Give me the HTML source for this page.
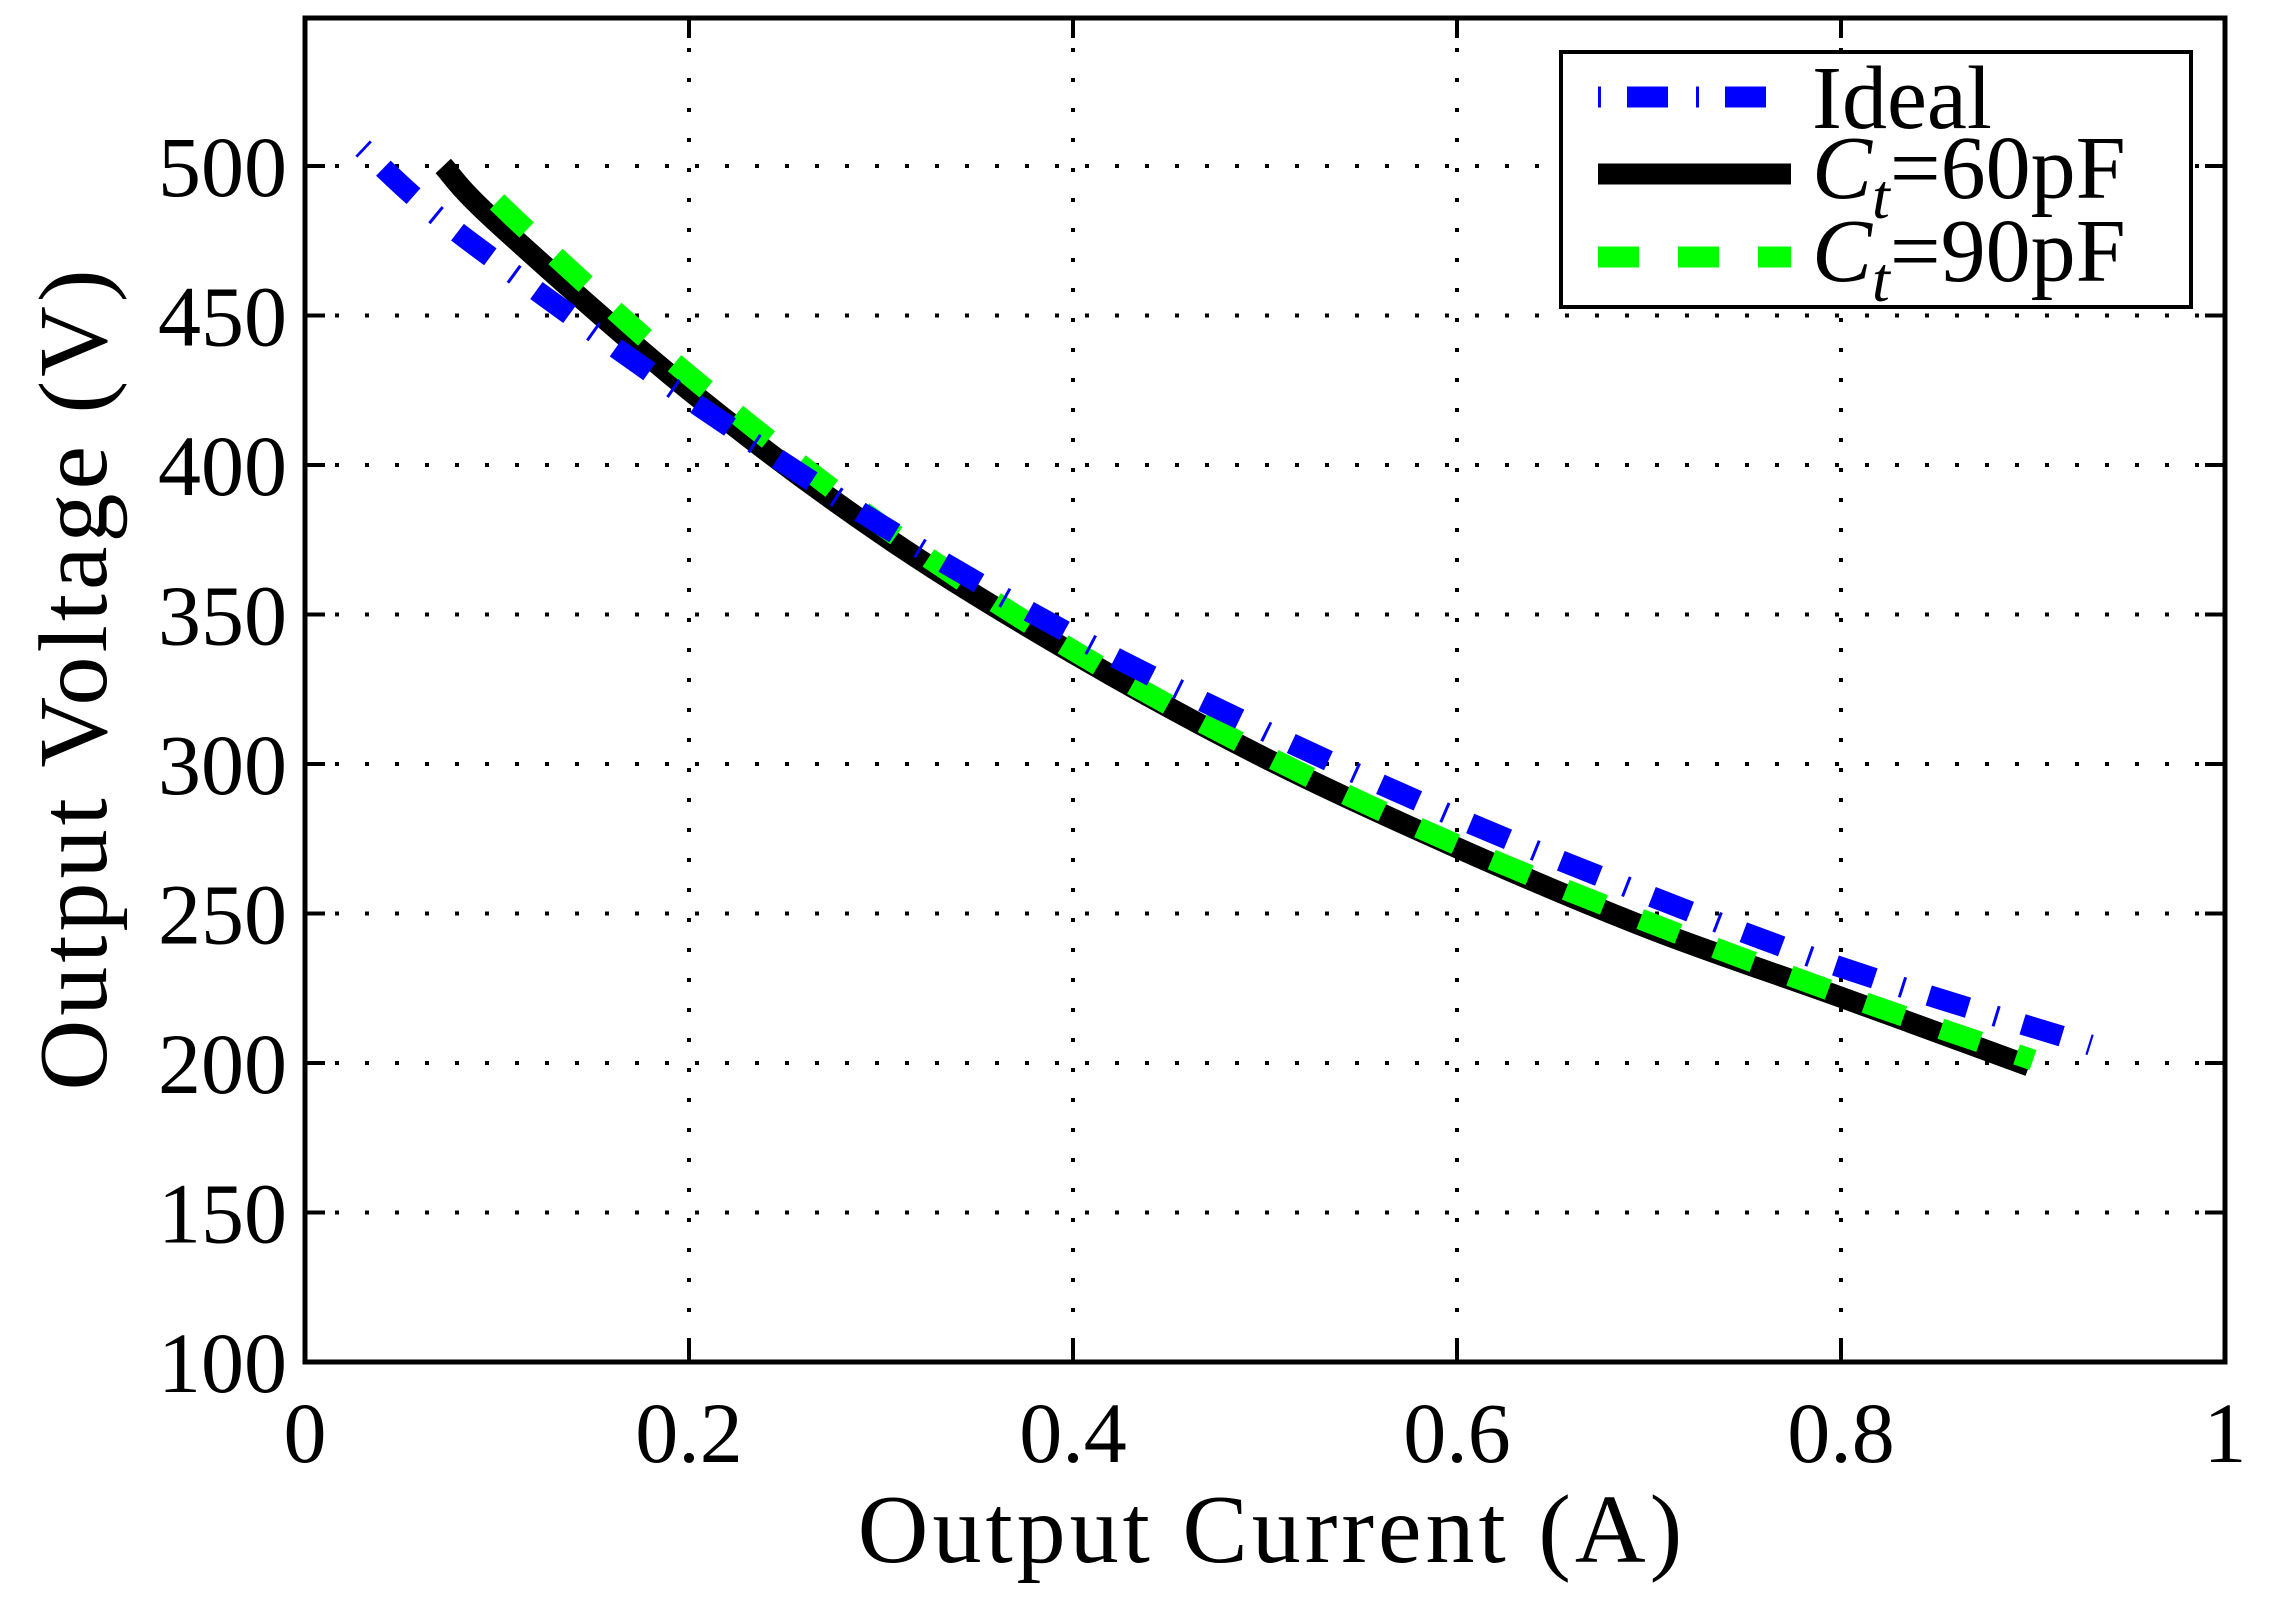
<!DOCTYPE html>
<html><head><meta charset="utf-8">
<style>
html,body{margin:0;padding:0;background:#fff;}
svg text{font-family:"Liberation Serif",serif;fill:#000;}
</style></head>
<body>
<svg id="chart" width="2274" height="1605" viewBox="0 0 2274 1605" xmlns="http://www.w3.org/2000/svg">
<defs><clipPath id="plotclip"><rect x="305" y="18" width="1920" height="1344"/></clipPath></defs>
<rect width="2274" height="1605" fill="#fff"/>
<g id="grid"></g>
<g id="series" clip-path="url(#plotclip)"></g>
<rect x="305" y="18" width="1920" height="1344" fill="none" stroke="#000" stroke-width="5"/>
<g id="ticks"></g>
<text x="1272" y="1562" font-size="98" text-anchor="middle" letter-spacing="4">Output Current (A)</text>
<text x="106" y="678" font-size="98" text-anchor="middle" letter-spacing="4" transform="rotate(-90 106 678)">Output Voltage (V)</text>
<g>
<rect x="1561" y="52" width="630" height="255" fill="#fff" stroke="#000" stroke-width="4"/>
<line x1="1598" y1="97" x2="1791" y2="97" stroke="#0000ff" stroke-width="21" stroke-dasharray="3 26 41 28"/>
<text x="1812" y="128" font-size="90">Ideal</text>
<line x1="1598" y1="174" x2="1791" y2="174" stroke="#000" stroke-width="21"/>
<text x="1812" y="198" font-size="90"><tspan font-style="italic">C</tspan><tspan font-style="italic" font-size="64" dy="20">t</tspan><tspan dy="-20">=60pF</tspan></text>
<line x1="1598" y1="257" x2="1791" y2="257" stroke="#00ff00" stroke-width="21" stroke-dasharray="41 39"/>
<text x="1812" y="281" font-size="90"><tspan font-style="italic">C</tspan><tspan font-style="italic" font-size="64" dy="20">t</tspan><tspan dy="-20">=90pF</tspan></text>
</g>
</svg>
<script>
const xTicks = [0, 0.2, 0.4, 0.6, 0.8, 1];
const xTickLabels = ["0", "0.2", "0.4", "0.6", "0.8", "1"];
const yTicks = [100, 150, 200, 250, 300, 350, 400, 450, 500];
const yTickLabels = ["100", "150", "200", "250", "300", "350", "400", "450", "500"];
const idealX = [0.03, 0.06, 0.1, 0.2, 0.3, 0.4, 0.5, 0.6, 0.7, 0.8, 0.93];
const idealV = [506, 488, 468, 422, 380, 343, 311, 282, 256, 232, 206];
const ct60X = [0.072, 0.1, 0.2, 0.3, 0.4, 0.5, 0.6, 0.7, 0.8, 0.898];
const ct60V = [500, 481, 425, 377, 337, 302, 272, 245, 222, 199];
const ct90X = [0.1, 0.13, 0.2, 0.3, 0.4, 0.5, 0.6, 0.7, 0.8, 0.9];
const ct90V = [488, 470, 430, 380, 338, 303, 273, 247, 223, 201];

const X0 = 305, X1 = 2225, Y100 = 1362, PXV = 2.99;
function sx(v){ return X0 + v * (X1 - X0); }
function sy(v){ return Y100 - (v - 100) * PXV; }
const NS = "http://www.w3.org/2000/svg";
const grid = document.getElementById('grid');
const ticks = document.getElementById('ticks');
function mk(tag, attrs, parent){
  const e = document.createElementNS(NS, tag);
  for (const k in attrs) e.setAttribute(k, attrs[k]);
  parent.appendChild(e); return e;
}
xTicks.forEach((t, i) => {
  const x = sx(t);
  if (t > 0 && t < 1) {
    const g = mk('line', {x1:x, y1:18, x2:x, y2:1362, stroke:'#000', 'stroke-width':4, 'stroke-dasharray':'4 26'}, grid);
    
    
    const a = mk('line', {x1:x, y1:1362, x2:x, y2:1342, stroke:'#000', 'stroke-width':4}, ticks);
    
    
    const b = mk('line', {x1:x, y1:18, x2:x, y2:38, stroke:'#000', 'stroke-width':4}, ticks);
    
    
  }
  const l = mk('text', {x:x, y:1462, 'font-size':86, 'text-anchor':'middle'}, ticks);
  l.textContent = xTickLabels[i];
  
  
});
yTicks.forEach((t, i) => {
  const y = sy(t);
  if (t > 100) {
    const g = mk('line', {x1:305, y1:y, x2:2225, y2:y, stroke:'#000', 'stroke-width':4, 'stroke-dasharray':'4 26'}, grid);
    
    
    const a = mk('line', {x1:305, y1:y, x2:325, y2:y, stroke:'#000', 'stroke-width':4}, ticks);
    
    
    const b = mk('line', {x1:2225, y1:y, x2:2205, y2:y, stroke:'#000', 'stroke-width':4}, ticks);
    
    
  }
  const l = mk('text', {x:287, y:y + 30, 'font-size':86, 'text-anchor':'end'}, ticks);
  l.textContent = yTickLabels[i];
  
  
});
function pathFor(xs, vs){
  const p = xs.map((x, i) => [sx(x), sy(vs[i])]);
  let d = 'M' + p[0][0] + ',' + p[0][1];
  for (let i = 0; i < p.length - 1; i++) {
    const p0 = p[Math.max(0, i - 1)], p1 = p[i], p2 = p[i + 1], p3 = p[Math.min(p.length - 1, i + 2)];
    const c1 = [p1[0] + (p2[0] - p0[0]) / 6, p1[1] + (p2[1] - p0[1]) / 6];
    const c2 = [p2[0] - (p3[0] - p1[0]) / 6, p2[1] - (p3[1] - p1[1]) / 6];
    d += ' C' + c1[0] + ',' + c1[1] + ' ' + c2[0] + ',' + c2[1] + ' ' + p2[0] + ',' + p2[1];
  }
  return d;
}
const series = document.getElementById('series');
const s60 = mk('path', {d:pathFor(ct60X, ct60V), fill:'none', stroke:'#000', 'stroke-width':21}, series);


const s90 = mk('path', {d:pathFor(ct90X, ct90V), fill:'none', stroke:'#00ff00', 'stroke-width':21, 'stroke-dasharray':'41 39'}, series);


const sid = mk('path', {d:pathFor(idealX, idealV), fill:'none', stroke:'#0000ff', 'stroke-width':21, 'stroke-dasharray':'3 26 41 28'}, series);


</script>
</body></html>
